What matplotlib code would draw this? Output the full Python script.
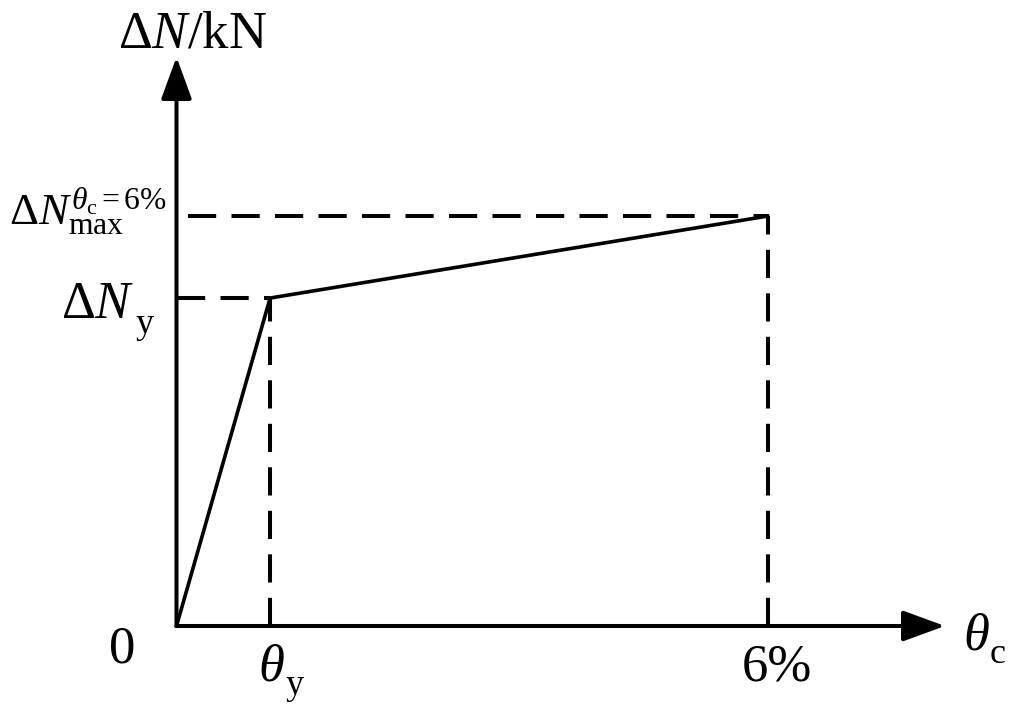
import matplotlib
matplotlib.use("Agg")
import matplotlib.pyplot as plt

OUTPUT_IMAGE = "out.png"

# schematic values (theta in %, force in relative units)
theta_pts = [0.0, 0.95, 6.0]
force_pts = [0.0, 80.0, 100.0]
theta_y = 0.95
theta_max = 6.0
force_y = 80.0
force_max = 100.0

plt.rcParams["mathtext.fontset"] = "custom"
plt.rcParams["mathtext.rm"] = "Liberation Serif"
plt.rcParams["mathtext.it"] = "Liberation Serif:italic"
plt.rcParams["font.family"] = ["Liberation Serif", "DejaVu Serif"]


def sub_label(ax, x, y, main, sub, fs, sub_fs, drop, shift=0.5):
    # main symbol plus a lowered subscript, like the original figure
    t = ax.text(x, y, main, fontsize=fs, ha="left", va="baseline", clip_on=False)
    ax.annotate(sub, xy=(1, 0), xycoords=t, xytext=(shift, -drop),
                textcoords="offset points", fontsize=sub_fs, ha="left",
                va="baseline", annotation_clip=False)


def main():
    W, H = 1015, 712
    fig = plt.figure(figsize=(W / 100, H / 100), dpi=100)
    x0, y0 = 176.5, 626
    x1, y1 = 945, 57
    ax = fig.add_axes([x0 / W, (H - y0) / H, (x1 - x0) / W, (y0 - y1) / H])
    ax.set_xlim(0, 7.8)
    ax.set_ylim(0, 138.8)
    ax.axis("off")

    # axes with arrows
    arrow = dict(arrowstyle="-|>,head_length=26,head_width=9.5", mutation_scale=1,
                 lw=2.9, color="black", shrinkA=0, shrinkB=0)
    ax.annotate("", xy=(1, 0), xytext=(0, 0), xycoords="axes fraction",
                textcoords="axes fraction", arrowprops=arrow, annotation_clip=False)
    ax.annotate("", xy=(0, 1), xytext=(0, 0), xycoords="axes fraction",
                textcoords="axes fraction", arrowprops=arrow, annotation_clip=False)

    # guide lines
    dash = dict(color="black", lw=2.9, dashes=(7, 3.8), solid_capstyle="butt")
    ax.plot([0, theta_y], [force_y, force_y], **dash)
    ax.plot([theta_y, theta_y], [0, force_y], **dash)
    ax.plot([0.12, theta_max], [force_max, force_max], **dash)
    ax.plot([theta_max, theta_max], [0, force_max], **dash)

    # bilinear curve
    ax.plot(theta_pts, force_pts, color="black", lw=2.6, solid_joinstyle="miter",
            clip_on=False)

    fs = 38
    ax.text(-0.553, -8.8, "0", fontsize=fs, ha="center", va="baseline")
    sub_label(ax, 0.827, -13.2, r"$\theta$", "y", fs, 26, 2.0)
    ax.text(6.09, -13.2, "6%", fontsize=fs, ha="center", va="baseline")
    sub_label(ax, 7.98, -5.85, r"$\theta$", "c", fs, 26, 1.5)
    sub_label(ax, -1.17, 75.1, r"$\Delta N$", "y", fs, 26, 2.5, shift=0.3)
    ax.text(-0.10, 97.8, r"$\Delta N_{\mathrm{max}}^{\theta_{\mathrm{c}}{=}6\%}$",
            fontsize=32.5, ha="right", va="baseline")
    ax.text(-0.593, 141.2, r"$\Delta N/\mathrm{kN}$", fontsize=fs, ha="left", va="baseline",
            clip_on=False)

    fig.savefig(OUTPUT_IMAGE, dpi=100)


if __name__ == "__main__":
    main()
